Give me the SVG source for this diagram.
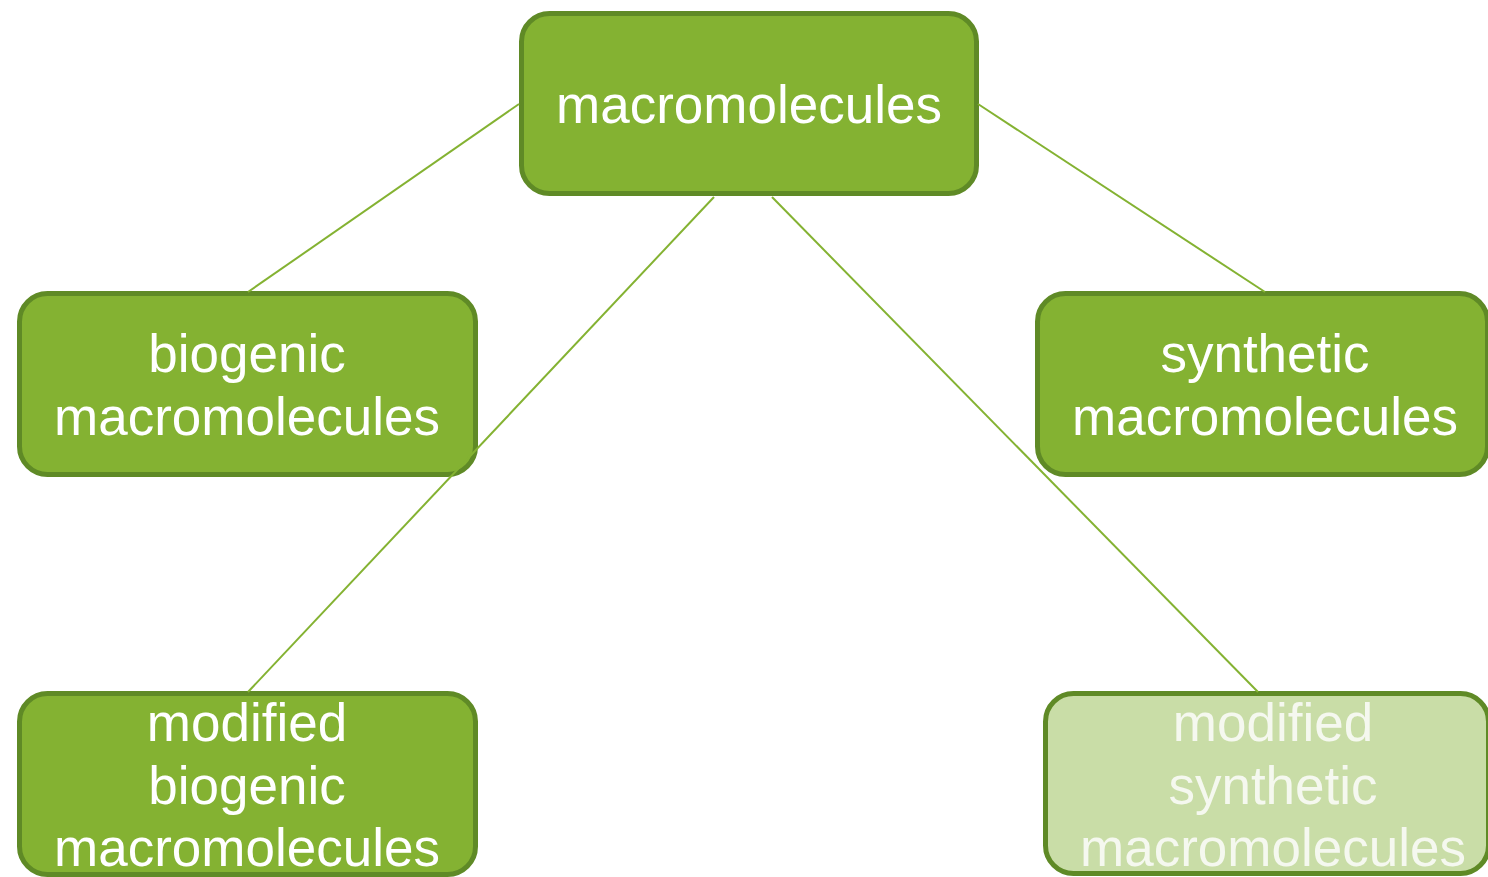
<svg xmlns="http://www.w3.org/2000/svg" width="1488" height="877" viewBox="0 0 1488 877">
<style>
.box{fill:#84b232;stroke:#5f8a26;stroke-width:5}
.light{fill:#c9dda7}
.t{font-family:"Liberation Sans",Arial,sans-serif;font-size:53px;fill:#ffffff;text-anchor:middle}
.tl{fill:#f5f8ef}
.c{stroke:#84b232;stroke-width:2;fill:none}
</style>
<rect width="1488" height="877" fill="#ffffff"/>
<g id="n-macro">
<rect class="box" x="521.5" y="13.5" width="455" height="180" rx="28"/>
<text class="t" x="749" y="123">macromolecules</text>
</g>
<g id="n-biogenic">
<rect class="box" x="19.5" y="293.5" width="456" height="181" rx="28"/>
<text class="t" x="247" y="372">biogenic</text>
<text class="t" x="247" y="435">macromolecules</text>
</g>
<g id="n-synthetic">
<rect class="box" x="1037.5" y="293.5" width="450" height="181" rx="28"/>
<text class="t" x="1265" y="372">synthetic</text>
<text class="t" x="1265" y="435">macromolecules</text>
</g>
<g id="n-mod-biogenic">
<rect class="box" x="19.5" y="693.5" width="456" height="181" rx="28"/>
<text class="t" x="247" y="741">modified</text>
<text class="t" x="247" y="804">biogenic</text>
<text class="t" x="247" y="866">macromolecules</text>
</g>
<g id="n-mod-synthetic">
<rect class="box light" x="1045.5" y="693.5" width="443" height="180" rx="28"/>
<text class="t tl" x="1273" y="741">modified</text>
<text class="t tl" x="1273" y="804">synthetic</text>
<text class="t tl" x="1273" y="866">macromolecules</text>
</g>
<g id="connectors">
<line class="c" x1="519" y1="104" x2="248" y2="292"/>
<line class="c" x1="978" y1="104" x2="1265" y2="292"/>
<line class="c" x1="714" y1="197" x2="248" y2="692"/>
<line class="c" x1="772" y1="197" x2="1258" y2="692"/>
</g>
</svg>
